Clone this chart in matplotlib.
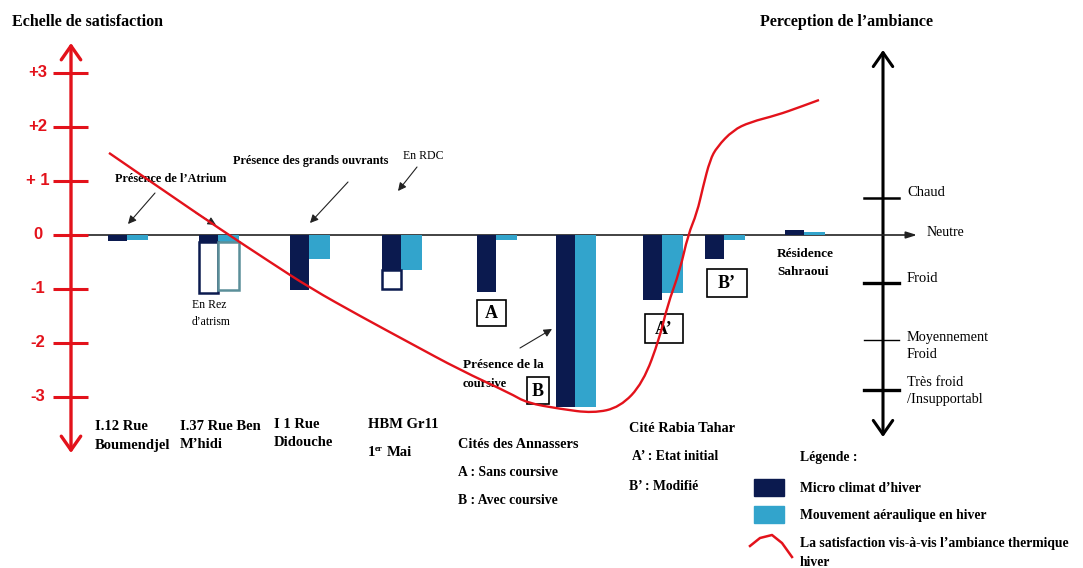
import matplotlib.pyplot as plt
from matplotlib.patches import Rectangle, PathPatch
from matplotlib.path import Path
import numpy as np

# site groups (left to right) and their winter values on the satisfaction scale
sites = ["I.12 Rue Boumendjel", "I.37 Rue Ben M'hidi", "I 1 Rue Didouche", "HBM Gr11 1er Mai",
         "Annassers A", "Annassers B", "Rabia Tahar A'", "Rabia Tahar B'", "Résidence Sahraoui"]
micro_climat = [-0.12, -0.13, -1.02, -0.65, -1.06, -3.19, -1.20, -0.44, 0.09]
mouvement_air = [-0.10, -0.13, -0.44, -0.65, -0.09, -3.19, -1.07, -0.09, 0.05]
# ground floor values (outlined bars)
micro_rdc = [np.nan, -1.07, np.nan, -1.00, np.nan, np.nan, np.nan, np.nan, np.nan]
mouvement_rdc = [np.nan, -1.02, np.nan, np.nan, np.nan, np.nan, np.nan, np.nan, np.nan]

# satisfaction curve (winter thermal ambiance)
curve_x = [109, 160, 220, 270, 310, 360, 410, 460, 510, 527, 560, 593, 620, 643, 660, 667,
           680, 688, 697, 703, 710, 717, 733, 750, 777, 800, 819]
curve_y = [1.52, 0.87, 0.11, -0.50, -0.98, -1.50, -2.00, -2.50, -2.93, -3.11, -3.22, -3.30,
           -3.19, -2.74, -1.89, -1.33, -0.65, 0.0, 0.41, 0.89, 1.39, 1.63, 1.94, 2.09, 2.22,
           2.37, 2.50]

scale_values = [3, 2, 1, 0, -1, -2, -3]
scale_labels = ["+3", "+2", "+ 1", "0", "-1", "-2", "-3"]

DARK = "#0b1a4f"
LIGHT = "#32a4cc"
RED = "#e3121b"
SERIF = "Liberation Serif"

# layout (pixels)
split = [127, 218, 309, 401, 496, 575, 662, 724, 804]
W_DARK, W_LIGHT = 19, 21
Y0, PX = 235, 54.0

fig = plt.figure(figsize=(10.83, 5.68), dpi=100)
cv = fig.add_axes([0, 0, 1, 1])
cv.set_xlim(0, 1083)
cv.set_ylim(568, 0)
cv.axis("off")

ax = fig.add_axes([0, 0, 1, 1])
ax.set_xlim(0, 1083)
ax.set_ylim(-(568 - Y0) / PX, Y0 / PX)
ax.axis("off")
ax.patch.set_alpha(0)

# baseline
ax.annotate("", xy=(917, 0), xytext=(63, 0),
            arrowprops=dict(arrowstyle="-|>,head_length=0.8,head_width=0.25", lw=1.2,
                            color="#222222", shrinkA=0, shrinkB=0, mutation_scale=8), zorder=1)

xs = np.array(split)
ax.bar(xs - W_DARK, micro_climat, width=W_DARK, align="edge", color=DARK, zorder=2)
ax.bar(xs, mouvement_air, width=W_LIGHT, align="edge", color=LIGHT, zorder=2)
mr = np.array(micro_rdc) - np.array(micro_climat)
lr = np.array(mouvement_rdc) - np.array(mouvement_air)
ax.bar(xs - W_DARK, mr, bottom=micro_climat, width=W_DARK, align="edge",
       facecolor="white", edgecolor=DARK, lw=1.8, zorder=2)
ax.bar(xs, lr, bottom=mouvement_air, width=W_LIGHT, align="edge",
       facecolor="white", edgecolor="#5b8f99", lw=1.8, zorder=2)

# red satisfaction axis
cv.annotate("", xy=(71, 43), xytext=(71, 453),
            arrowprops=dict(arrowstyle="<->,head_length=0.5,head_width=0.35", lw=2.4,
                            color=RED, shrinkA=0, shrinkB=0, mutation_scale=20))
ax.hlines(scale_values, 53, 88, color=RED, lw=2.2, zorder=3)
for v, lab in zip(scale_values, scale_labels):
    ax.text(38, v, lab, color=RED, fontsize=12, fontweight="bold",
            family="Liberation Sans", ha="center", va="center")

# perception axis
cv.annotate("", xy=(883, 50), xytext=(883, 437),
            arrowprops=dict(arrowstyle="<->,head_length=0.5,head_width=0.35", lw=2.2,
                            color="black", shrinkA=0, shrinkB=0, mutation_scale=20))
for py, lw in [(198, 1.8), (283, 2.4), (340, 1.0), (390, 2.4)]:
    cv.plot([864, 899], [py, py], color="black", lw=lw)

# letter boxes
for (x0, y0, x1, y1), lab in [((477, 300, 506, 326), "A"), ((527, 377, 549, 404), "B"),
                              ((645, 314, 683, 343), "A\u2019"), ((707, 269, 747, 297), "B\u2019")]:
    cv.add_patch(Rectangle((x0, y0), x1 - x0, y1 - y0, facecolor="white",
                           edgecolor="black", lw=1.2, zorder=4))
    cv.text((x0 + x1) / 2, (y0 + y1) / 2 + 1, lab, family=SERIF, fontweight="bold",
            fontsize=13, ha="center", va="center", zorder=5)

# satisfaction curve, drawn smooth through the read points
pts = np.column_stack([curve_x, curve_y])
verts = [pts[0]]
codes = [Path.MOVETO]
for i in range(1, len(pts) - 1):
    end = pts[i + 1] if i == len(pts) - 2 else (pts[i] + pts[i + 1]) / 2
    verts += [pts[i], end]
    codes += [Path.CURVE3, Path.CURVE3]
ax.add_patch(PathPatch(Path(verts, codes), facecolor="none", edgecolor=RED, lw=1.7,
                       zorder=6))

# texts: x, y, string, size, weight
texts = [
    (12, 22, "Echelle de satisfaction", 11.5, "bold"),
    (760, 22, "Perception de l\u2019ambiance", 11.5, "bold"),
    (115, 179, "Présence de l\u2019Atrium", 8.8, "bold"),
    (233, 161, "Présence des grands ouvrants", 8.8, "bold"),
    (403, 156, "En RDC", 8.5, "normal"),
    (192, 305, "En Rez", 8.5, "normal"),
    (192, 322, "d\u2019atrism", 8.5, "normal"),
    (463, 365, "Présence de la", 9.5, "bold"),
    (463, 384, "coursive", 9, "bold"),
    (777, 254, "Résidence", 9.5, "bold"),
    (777, 272, "Sahraoui", 9.5, "bold"),
    (95, 427, "I.12 Rue", 10.5, "bold"),
    (95, 445, "Boumendjel", 10.5, "bold"),
    (180, 427, "I.37 Rue Ben", 10.5, "bold"),
    (180, 445, "M\u2019hidi", 10.5, "bold"),
    (274, 425, "I 1 Rue", 10.5, "bold"),
    (274, 443, "Didouche", 10.5, "bold"),
    (368, 425, "HBM Gr11", 10.5, "bold"),
    (368, 453, "1", 10.5, "bold"),
    (375, 449, "er", 6.5, "bold"),
    (387, 453, "Mai", 10.5, "bold"),
    (458, 445, "Cités des Annassers", 10.3, "bold"),
    (458, 473, "A : Sans coursive", 9.8, "bold"),
    (458, 501, "B : Avec coursive", 9.8, "bold"),
    (629, 429, "Cité Rabia Tahar", 10.3, "bold"),
    (632, 457, "A\u2019 : Etat initial", 9.8, "bold"),
    (629, 486, "B\u2019 : Modifié", 9.8, "bold"),
    (800, 458, "Légende :", 9.8, "bold"),
    (800, 488, "Micro climat d\u2019hiver", 9.8, "bold"),
    (800, 515, "Mouvement aéraulique en hiver", 9.8, "bold"),
    (800, 544, "La satisfaction vis-à-vis l\u2019ambiance thermique", 9.8, "bold"),
    (800, 563, "hiver", 9.8, "bold"),
    (907, 193, "Chaud", 10.5, "normal"),
    (927, 232, "Neutre", 10, "normal"),
    (907, 279, "Froid", 10.5, "normal"),
    (907, 337, "Moyennement", 10.3, "normal"),
    (907, 355, "Froid", 10.3, "normal"),
    (907, 382, "Très froid", 10.3, "normal"),
    (907, 400, "/Insupportabl", 10.3, "normal"),
]
for x, y, s, size, weight in texts:
    cv.text(x, y, s, family=SERIF, fontsize=size, fontweight=weight, ha="left", va="center")

# pointing arrows
for (x0, y0), (x1, y1) in [((155, 193), (128, 224)), ((196, 213), (216, 225)),
                           ((348, 182), (310, 223)), ((417, 167), (398, 191)),
                           ((520, 348), (552, 329))]:
    cv.annotate("", xy=(x1, y1), xytext=(x0, y0),
                arrowprops=dict(arrowstyle="-|>,head_length=0.6,head_width=0.3", lw=0.8,
                                color="#222222", shrinkA=0, shrinkB=0, mutation_scale=8))

# legend
cv.add_patch(Rectangle((754, 479), 30, 17, color=DARK))
cv.add_patch(Rectangle((754, 506), 30, 17, color=LIGHT))
cv.plot([750, 760, 772, 782, 792], [546, 538, 535, 543, 557], color=RED, lw=1.8)

fig.savefig("out.png", dpi=100)
